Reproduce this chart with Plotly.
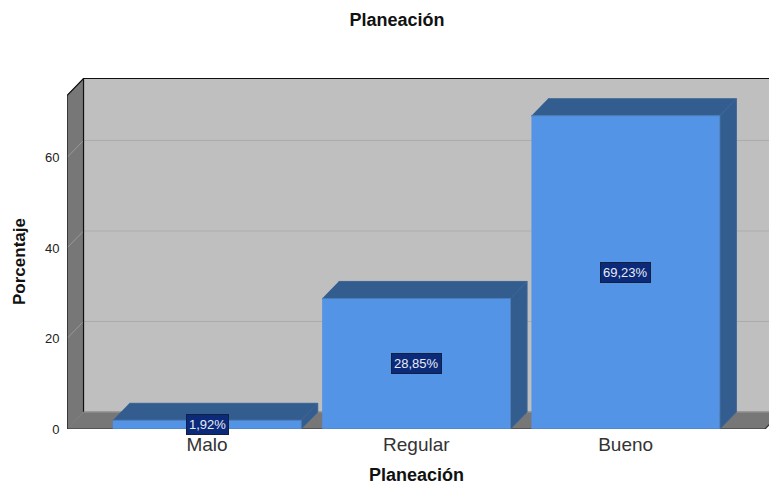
import plotly.graph_objects as go

categories = ["Malo", "Regular", "Bueno"]
values = [1.92, 28.85, 69.23]
labels = ["1,92%", "28,85%", "69,23%"]
y_ticks = [0, 20, 40, 60]
y_tick_labels = ["0", "20", "40", "60"]

# Axis extents and the oblique offset of the pseudo-3D box
X_MIN, X_MAX = -0.669, 2.685
Y_MAX = 77.57
BOX_TOP = 73.7
BAR_HALF = 0.45
DX, DY = 0.079, 3.76
FLOOR_RIGHT = 2.666

WALL = "#bfbfbf"
SIDE = "#777777"
BAR_FRONT = "#5394e6"
BAR_DARK = "#335c8f"
FONT = "Liberation Sans"
TITLE_FONT = dict(family=FONT, size=18, color="#111111")

# Page layout of the plot area
WIDTH, HEIGHT = 769, 486
M_LEFT, M_TOP, M_BOTTOM = 67, 78, 57
PLOT_W = WIDTH - M_LEFT
PLOT_H = HEIGHT - M_TOP - M_BOTTOM

fig = go.Figure()


def poly(xs, ys, fill, line=None, width=1):
    fig.add_trace(go.Scatter(
        x=xs, y=ys, mode="lines", fill="toself", fillcolor=fill,
        line=dict(color=line or fill, width=width),
        hoverinfo="skip", showlegend=False,
    ))


def path(xs, ys, color, width=1):
    fig.add_trace(go.Scatter(
        x=xs, y=ys, mode="lines", line=dict(color=color, width=width),
        hoverinfo="skip", showlegend=False,
    ))


# Back wall, left wall and floor
poly([X_MIN + DX, X_MAX + 1, X_MAX + 1, X_MIN + DX],
     [DY, DY, BOX_TOP + DY, BOX_TOP + DY], WALL)
poly([X_MIN, X_MIN + DX, X_MIN + DX, X_MIN],
     [0, DY, BOX_TOP + DY, BOX_TOP], SIDE)
poly([X_MIN, FLOOR_RIGHT, FLOOR_RIGHT + DX, X_MIN + DX],
     [0, 0, DY, DY], SIDE)

# Gridlines wrap from the left wall onto the back wall
for t in y_ticks[1:]:
    path([X_MIN, X_MIN + DX], [t, t + DY], "#9a9a9a")
    path([X_MIN + DX, X_MAX + 1], [t + DY, t + DY], "#adadad")

# Box outlines
path([X_MIN, X_MIN, X_MIN + DX, X_MAX + 1], [0, BOX_TOP, BOX_TOP + DY, BOX_TOP + DY], "#111111", 1.2)
path([X_MIN + DX, X_MIN + DX], [DY, BOX_TOP + DY], "#111111", 1.2)
path([X_MIN, FLOOR_RIGHT, FLOOR_RIGHT + DX], [0, 0, DY], "#333333", 1.2)
path([X_MIN + DX, X_MAX + 1], [DY, DY], "#9a9a9a")

# Bars: top face, side face, then front face
for i, v in enumerate(values):
    left, right = i - BAR_HALF, i + BAR_HALF
    poly([left, right, right + DX, left + DX], [v, v, v + DY, v + DY], BAR_DARK, "#3d6595")
    poly([right, right + DX, right + DX, right], [0, DY, v + DY, v], BAR_DARK, "#3d6595")
    poly([left, right, right, left], [0, 0, v, v], BAR_FRONT, "#4f7fb8")

# Value labels centred on each bar's front face
annotations = [
    dict(x=i, y=v / 2, text=labels[i], showarrow=False, xref="x", yref="y",
         font=dict(family=FONT, size=13, color="#e8ecf5"),
         bgcolor="#0b2a7a", bordercolor="#10203f", borderwidth=1, borderpad=2)
    for i, v in enumerate(values)
]

# Axis titles, positioned from page pixels
annotations += [
    dict(x=(416 - M_LEFT) / PLOT_W, y=(HEIGHT - M_BOTTOM - 475) / PLOT_H,
         xref="paper", yref="paper", xanchor="center", yanchor="middle",
         text="<b>Planeación</b>", showarrow=False, font=TITLE_FONT),
    dict(x=(19 - M_LEFT) / PLOT_W, y=(HEIGHT - M_BOTTOM - 261) / PLOT_H,
         xref="paper", yref="paper", xanchor="center", yanchor="middle",
         text="<b>Porcentaje</b>", showarrow=False, textangle=-90,
         font=dict(family=FONT, size=17, color="#111111")),
]

fig.update_layout(
    width=WIDTH, height=HEIGHT,
    autosize=False,
    paper_bgcolor="white", plot_bgcolor="white",
    margin=dict(l=M_LEFT, r=0, t=M_TOP, b=M_BOTTOM),
    showlegend=False,
    annotations=annotations,
    title=dict(text="<b>Planeación</b>", x=397 / WIDTH, xanchor="center", y=1 - 20 / HEIGHT,
               yanchor="middle", font=TITLE_FONT),
    xaxis=dict(
        range=[X_MIN, X_MAX], tickvals=[0, 1, 2], ticktext=categories,
        showgrid=False, zeroline=False, showline=False, ticks="",
        ticklabelstandoff=2,
        tickfont=dict(family=FONT, size=19, color="#333333"),
    ),
    yaxis=dict(
        range=[0, Y_MAX], tickvals=y_ticks, ticktext=y_tick_labels,
        showgrid=False, zeroline=False, showline=False,
        ticks="outside", ticklen=4, tickcolor="white",
        tickfont=dict(family=FONT, size=13, color="#222222"),
    ),
)

fig.write_html("out.html")
